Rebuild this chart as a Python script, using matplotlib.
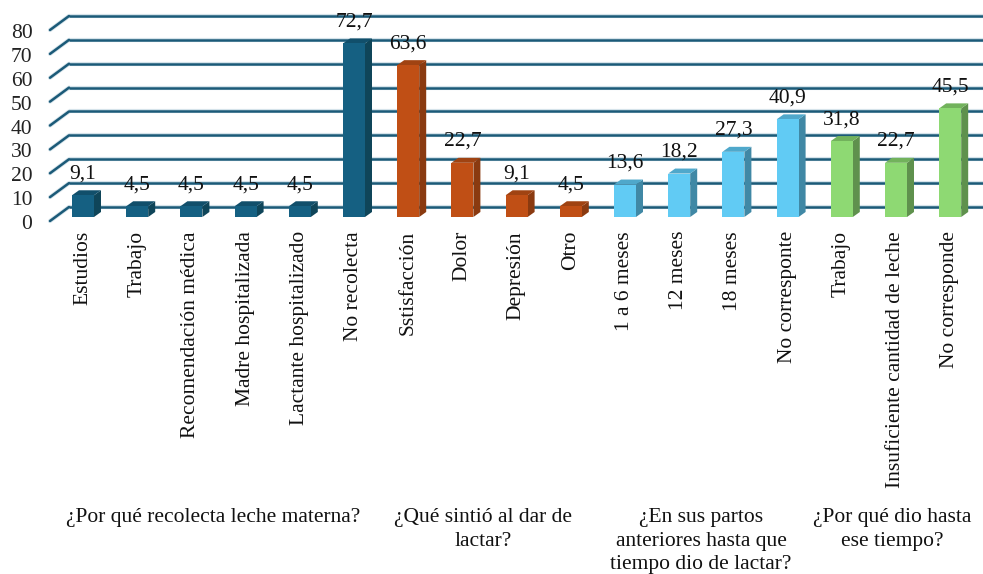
import matplotlib
matplotlib.use("Agg")
import matplotlib.pyplot as plt
from matplotlib.patches import Polygon

categories = ["Estudios", "Trabajo", "Recomendación médica", "Madre hospitalizada",
              "Lactante hospitalizado", "No recolecta", "Sstisfacción", "Dolor",
              "Depresión", "Otro", "1 a 6 meses", "12 meses", "18 meses",
              "No corresponte", "Trabajo", "Insuficiente cantidad de leche", "No corresponde"]
values = [9.1, 4.5, 4.5, 4.5, 4.5, 72.7, 63.6, 22.7, 9.1, 4.5, 13.6, 18.2, 27.3, 40.9, 31.8, 22.7, 45.5]
group_sizes = [6, 4, 4, 3]
group_labels = ["¿Por qué recolecta leche materna?", "¿Qué sintió al dar de\nlactar?",
                "¿En sus partos\nanteriores hasta que\ntiempo dio de lactar?",
                "¿Por qué dio hasta\nese tiempo?"]
group_text_centers = [213, 483, 701, 892]
front_colors = ["#156082", "#c04f15", "#61cbf4", "#8ed973"]
side_colors = ["#0f4559", "#8a3a10", "#4088a5", "#5f914d"]
top_colors = ["#114f6b", "#a04312", "#4fa8cb", "#72b25c"]
y_ticks = list(range(0, 90, 10))

W, H = 983, 574
plt.rcParams["font.family"] = ["Liberation Serif", "DejaVu Serif"]
FS = 15.5
fig = plt.figure(figsize=(W / 100, H / 100), dpi=100)
L, R, B, T = 50, 983, 217, 26
ax = fig.add_axes([L / W, 1 - B / H, (R - L) / W, (B - T) / H])
step, c0 = 54.2, 83
ax.set_xlim((L - c0) / step, (R - c0) / step)
ax.set_ylim(0, 80)
ax.axis("off")

xl, xr = ax.get_xlim()
kx = 1 / step            # x data units per pixel
ky = 80 / (B - T)        # y data units per pixel
wall = 19 * kx
for v in y_ticks:
    y_back = v + 10 * ky
    y_front = v - 4 * ky
    for lw, col, z in [(3.0, "#d5e3ea", 1), (1.8, "#1b5a78", 2)]:
        ax.plot([xl + wall, xr], [y_back, y_back], color=col, lw=lw,
                clip_on=False, zorder=z, solid_capstyle="butt")
        ax.plot([xl, xl + wall], [y_front, y_back], color=col, lw=lw,
                clip_on=False, zorder=z, solid_capstyle="round")
    ax.annotate(str(v), (xl, y_front), xytext=(-17.5 * 0.72, -3.5 * 0.72),
                textcoords="offset points", ha="right", va="center",
                fontsize=FS, color="#222222", annotation_clip=False)

colors = []
for g, n in enumerate(group_sizes):
    colors += [g] * n
bw = 22 * kx
DX, DY = 7 * kx, 5 * ky
for i, (v, g) in enumerate(zip(values, colors)):
    ax.bar(i, v, width=bw, color=front_colors[g], zorder=5, linewidth=0)
    x0, x1 = i - bw / 2, i + bw / 2
    ax.add_patch(Polygon([(x1, 0), (x1 + DX, DY), (x1 + DX, v + DY), (x1, v)],
                         facecolor=side_colors[g], lw=0, zorder=4))
    ax.add_patch(Polygon([(x0, v), (x1, v), (x1 + DX, v + DY), (x0 + DX, v + DY)],
                         facecolor=top_colors[g], lw=0, zorder=4))
    ax.annotate(f"{v:.1f}".replace(".", ","), (i, v), xytext=(0, 21.5 * 0.72),
                textcoords="offset points", ha="center", va="center",
                fontsize=FS, color="#111111", zorder=7, annotation_clip=False)
    ax.annotate(categories[i], (i, 0), xytext=(-0.5 * 0.72, -14 * 0.72),
                textcoords="offset points", ha="center", va="top", rotation=90,
                fontsize=FS, color="#111111", annotation_clip=False)

for label, cx in zip(group_labels, group_text_centers):
    fig.text(cx / W, 1 - 508 / H, label, ha="center", va="top", fontsize=FS,
             color="#111111", linespacing=1.33)

fig.savefig("out.png", dpi=100)
